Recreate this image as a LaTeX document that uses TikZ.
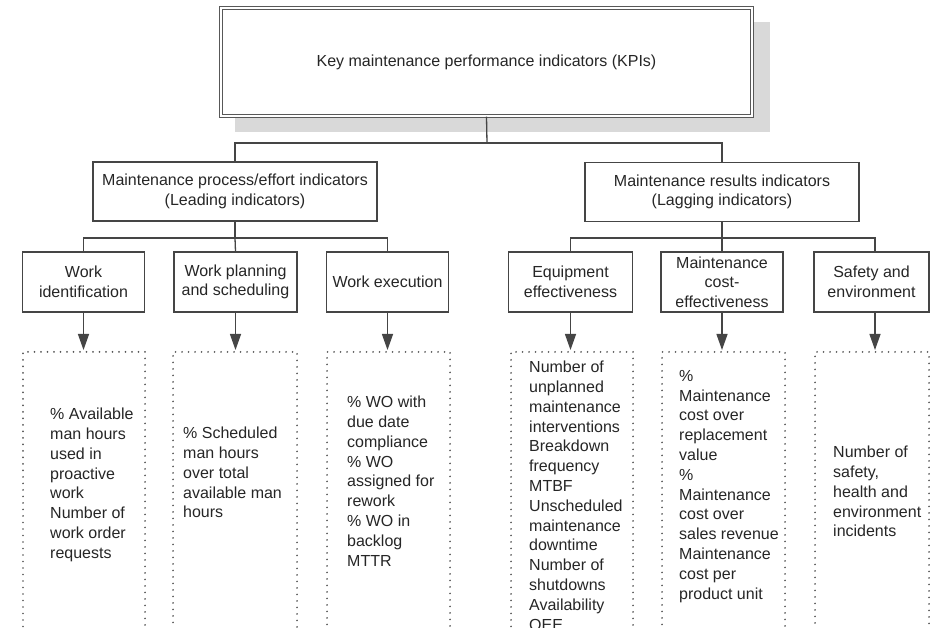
\documentclass[tikz,border=0pt]{standalone}
\usepackage{fontspec}
\setmainfont{Liberation Sans}
\usetikzlibrary{arrows.meta}
\definecolor{ln}{HTML}{454545}
\definecolor{tx}{HTML}{262626}
\definecolor{shd}{HTML}{D9D9D9}
\definecolor{dotc}{HTML}{555555}
\tikzset{
  box/.style={draw=ln, line width=1.3pt, fill=white, inner sep=0pt, align=center,
    text=tx, font=\fontsize{16}{19.5}\selectfont},
  midbox/.style={box, minimum width=#1, minimum height=59pt},
  lbox/.style={box, minimum width=#1, minimum height=60pt},
  dotbox/.style={draw=dotc, line width=1.9pt, line cap=round, dash pattern=on 0pt off 6.5pt,
    inner sep=0pt, minimum width=#1, minimum height=320pt, anchor=north},
  item/.style={anchor=north west, inner sep=0pt, align=left, text=tx,
    font=\fontsize{16}{19.8}\selectfont},
  conn/.style={draw=ln, line width=1.3pt},
  arr/.style={conn, -{Triangle[length=16pt, width=11pt]}, shorten >=1pt}
}
\begin{document}
\begin{tikzpicture}[x=1pt, y=-1pt]
\fill[white] (0,0) rectangle (930,628);
\useasboundingbox (0,0) rectangle (930,628);
\clip (0,0) rectangle (930,628);

% shadow and top box
\fill[shd] (235,22) rectangle (770,132);
\node[box, draw=ln!90, line width=1.1pt, double=white, double distance=1.6pt,
      minimum width=531pt, minimum height=108pt] (top) at (486.5,62)
      {Key maintenance performance indicators (KPIs)};

% second level
\node[midbox=284pt] (midL) at (235,191.5) {Maintenance process/effort indicators\\(Leading indicators)};
\node[midbox=274pt] (midR) at (722,192) {Maintenance results indicators\\(Lagging indicators)};

\coordinate (j0) at (487,143);
\draw[conn] (top.south) -- (j0);
\draw[conn] (midL.north) |- (j0) -| (midR.north);

% third level
\node[lbox=122pt] (wi) at (83.5,282) {Work\\identification};
\node[lbox=123pt] (wp) at (235.5,282) {Work planning\\and scheduling};
\node[lbox=122pt] (we) at (387.5,282) {Work execution};
\node[lbox=124pt] (ee) at (570.5,282) {Equipment\\effectiveness};
\node[lbox=122pt] (mc) at (722,282) {Maintenance\\cost-\\effectiveness};
\node[lbox=115pt] (se) at (871.5,282) {Safety and\\environment};

\coordinate (jL) at (235,238);
\coordinate (jR) at (722,238);
\draw[conn] (midL.south) -- (jL);
\draw[conn] (wi.north) |- (jL) -| (we.north);
\draw[conn] (jL) -- (wp.north);
\draw[conn] (midR.south) -- (jR);
\draw[conn] (ee.north) |- (jR) -| ([xshift=3.5pt]se.north);
\draw[conn] (jR) -- (mc.north);

% dotted boxes
\node[dotbox=122pt] (d1) at (84,351) {};
\node[dotbox=124pt] (d2) at (235,351) {};
\node[dotbox=123pt] (d3) at (388.5,351) {};
\node[dotbox=122pt] (d4) at (572,351) {};
\node[dotbox=123pt] (d5) at (723.5,351) {};
\node[dotbox=114pt] (d6) at (872,351) {};

\draw[arr] (wi.south) -- (wi.south |- d1.north);
\draw[arr] (wp.south) -- (wp.south |- d2.north);
\draw[arr] (we.south) -- (we.south |- d3.north);
\draw[arr] (ee.south) -- (ee.south |- d4.north);
\draw[arr] (mc.south) -- (mc.south |- d5.north);
\draw[arr] ([xshift=3.5pt]se.south) -- ([xshift=3.5pt]se.south |- d6.north);

% texts
\node[item] (t1) at (50,408) {\% Available\\man hours\\used in\\proactive\\work\\Number of\\work order\\requests};
\node[item] (t2) at (183,427) {\% Scheduled\\man hours\\over total\\available man\\hours};
\node[item] (t3) at (347,396) {\% WO with\\due date\\compliance\\\% WO\\assigned for\\rework\\\% WO in\\backlog\\MTTR};
\node[item] (t4) at (529,361) {Number of\\unplanned\\maintenance\\interventions\\Breakdown\\frequency\\MTBF\\Unscheduled\\maintenance\\downtime\\Number of\\shutdowns\\Availability\\OEE};
\node[item] (t5) at (679,370) {\%\\Maintenance\\cost over\\replacement\\value\\\%\\Maintenance\\cost over\\sales revenue\\Maintenance\\cost per\\product unit};
\node[item] (t6) at (833,446) {Number of\\safety,\\health and\\environment\\incidents};
\end{tikzpicture}
\end{document}
